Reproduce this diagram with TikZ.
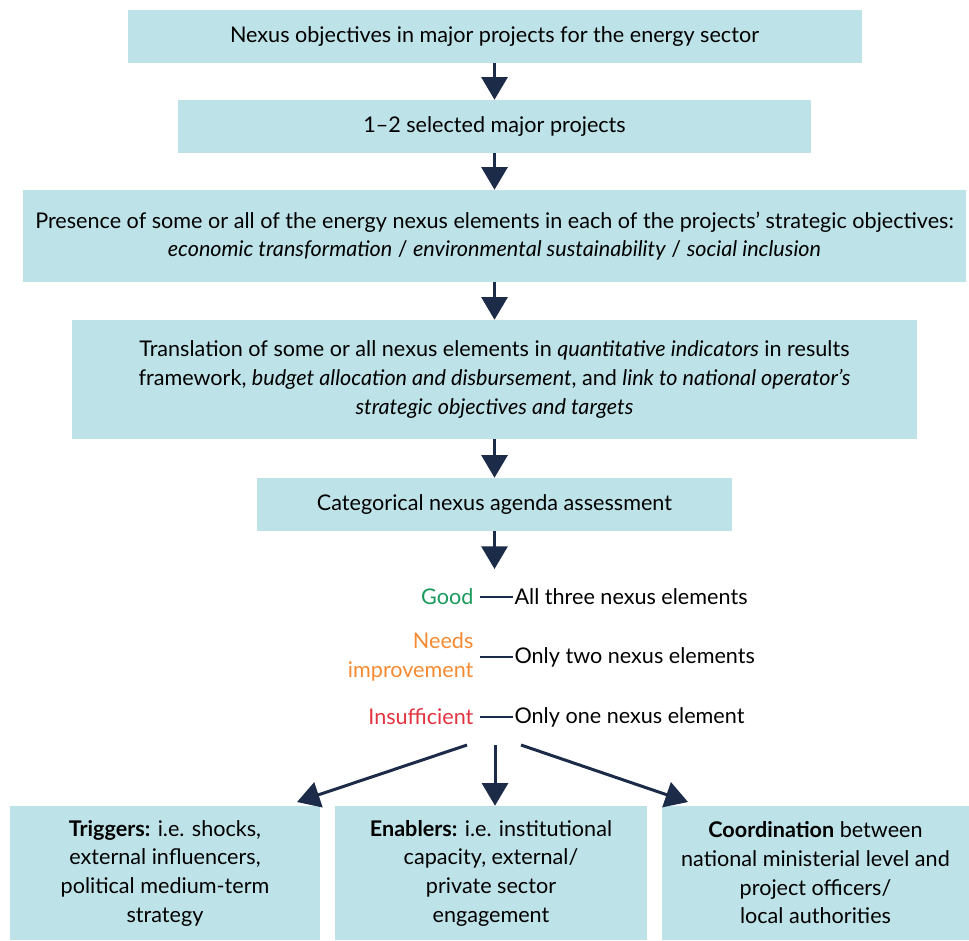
\documentclass[tikz,border=0pt]{standalone}
\usepackage{fontspec}
\setmainfont{Lato}
\usetikzlibrary{arrows.meta,positioning}

\definecolor{boxfill}{HTML}{BDE3E8}
\definecolor{navy}{HTML}{1C2B48}
\definecolor{goodgreen}{HTML}{1A9A5C}
\definecolor{needorange}{HTML}{F58A32}
\definecolor{badred}{HTML}{E3333F}

\begin{document}
\begin{tikzpicture}[x=0.75pt,y=-0.75pt,
    >={Triangle[width=19.5pt,length=17pt]},
    box/.style={fill=boxfill,align=center,inner sep=0pt,font=\fontsize{16.2}{21.5}\selectfont,text=black},
    arr/.style={->,navy,line width=2.25pt},
    rate/.style={font=\fontsize{16.2}{21.5}\selectfont,inner sep=1pt}]
    \useasboundingbox (0,0) rectangle (969,940);

    \node[box,minimum width=550.5pt,minimum height=39.75pt] (obj) at (494.5,36.5)
      {Nexus objectives in major projects for the energy sector};
    \node[box,minimum width=474.75pt,minimum height=39.75pt] (sel) at (494.5,126.5)
      {1–2 selected major projects};
    \node[box,minimum width=707.25pt,minimum height=69pt] (pres) at (494.5,236)
      {Presence of some or all of the energy nexus elements in each of the projects’ strategic objectives:\\
       \textit{economic transformation} / \textit{environmental sustainability} / \textit{social inclusion}};
    \node[box,minimum width=633.75pt,minimum height=89.25pt] (trans) at (494.5,379.5)
      {Translation of some or all nexus elements in \textit{quantitative indicators} in results\\
       framework, \textit{budget allocation and disbursement}, and \textit{link to national operator’s}\\
       \textit{strategic objectives and targets}};
    \node[box,minimum width=356.25pt,minimum height=39.75pt] (cat) at (494.5,504.5)
      {Categorical nexus agenda assessment};

    \draw[arr] (obj) -- (sel);
    \draw[arr] (sel) -- (pres);
    \draw[arr] (pres) -- (trans);
    \draw[arr] (trans) -- (cat);
    \coordinate (rtop) at (494.5,569);
    \draw[arr] (cat) -- (rtop);

    % rating scale
    \node[rate,anchor=east,text=goodgreen] (good) at (475,597) {Good};
    \node[rate,anchor=west] (goodd) at (513,597) {All three nexus elements};
    \node[rate,anchor=east,align=right,text=needorange] (need) at (475,657) {Needs\\improvement};
    \node[rate,anchor=west] (needd) at (513,657) {Only two nexus elements};
    \node[rate,anchor=east,text=badred] (insuf) at (475,717) {Insufficient};
    \node[rate,anchor=west] (insufd) at (513,717) {Only one nexus element};
    \draw[navy,line width=0.9pt,shorten <=4pt] (good) -- (goodd);
    \draw[navy,line width=0.9pt,shorten <=4pt] (need.east) -- (needd.west);
    \draw[navy,line width=0.9pt,shorten <=4pt] (insuf) -- (insufd);

    \node[box,minimum width=232.5pt,minimum height=100.5pt] (trig) at (165,873)
      {\textbf{Triggers:} i.e. shocks,\\ external influencers,\\ political medium-term\\ strategy};
    \node[box,minimum width=234pt,minimum height=100.5pt] (enab) at (491,873)
      {\textbf{Enablers:} i.e. institutional\\ capacity, external/\\ private sector\\ engagement};
    \node[box,minimum width=230.25pt,minimum height=100.5pt] (coord) at (815.5,873)
      {\textbf{Coordination} between\\ national ministerial level and\\ project officers/\\ local authorities};

    \coordinate (sl) at (467,745);
    \coordinate (sm) at (495,745);
    \coordinate (sr) at (521,745);
    \coordinate (el) at (297,802);
    \coordinate (er) at (688,802);
    \draw[arr] (sl) -- (el);
    \draw[arr] (sm) -- (sm |- enab.north);
    \draw[arr] (sr) -- (er);
  \end{tikzpicture}
\end{document}
